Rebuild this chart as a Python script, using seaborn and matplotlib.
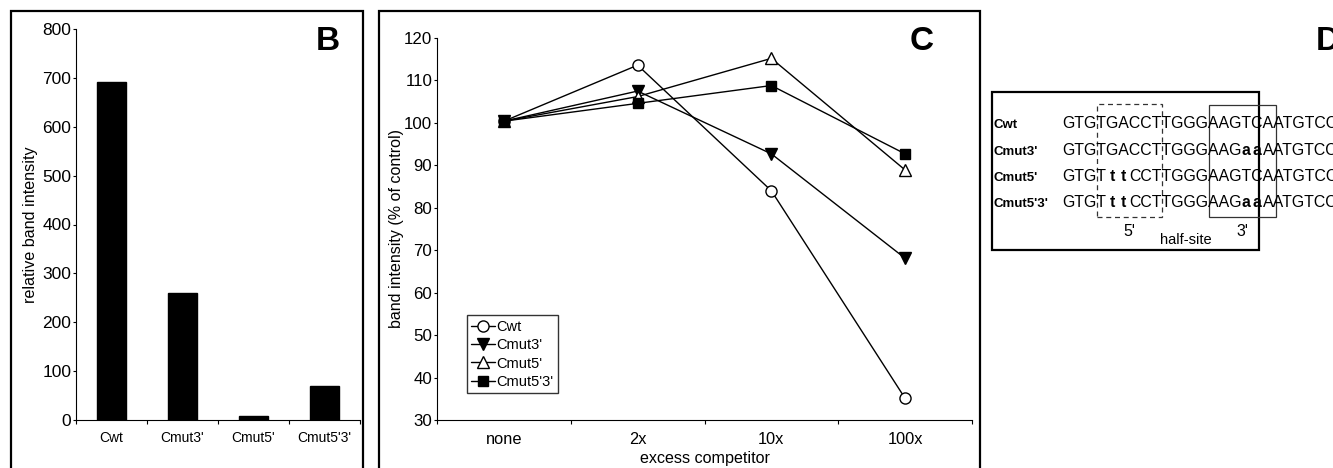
import numpy as np
import pandas as pd
import matplotlib
matplotlib.use("Agg")
import matplotlib.pyplot as plt
import seaborn as sns
from matplotlib.patches import Rectangle
from matplotlib.font_manager import FontProperties

# ---------------- data ----------------
bar_categories = ["Cwt", "Cmut3'", "Cmut5'", "Cmut5'3'"]
bar_values = [692, 260, 8, 70]
bar_yticks = [0, 100, 200, 300, 400, 500, 600, 700, 800]

competitor_levels = ["none", "2x", "10x", "100x"]
series_names = ["Cwt", "Cmut3'", "Cmut5'", "Cmut5'3'"]
cwt_values = [100.4, 113.6, 84.0, 35.1]
cmut3_values = [100.4, 107.5, 92.7, 68.1]
cmut5_values = [100.4, 106.2, 115.2, 88.9]
cmut53_values = [100.4, 104.6, 108.8, 92.7]
line_yticks = [30, 40, 50, 60, 70, 80, 90, 100, 110, 120]

seq_labels = ["Cwt", "Cmut3'", "Cmut5'", "Cmut5'3'"]
sequences = [
    "GTGTGACCTTGGGAAGTCAATGTCC",
    "GTGTGACCTTGGGAAGaaAATGTCC",
    "GTGTttCCTTGGGAAGTCAATGTCC",
    "GTGTttCCTTGGGAAGaaAATGTCC",
]
half_site_5 = (3, 9)    # char span of 5' half-site
half_site_3 = (13, 19)  # char span of 3' half-site

# ---------------- style ----------------
sns.set_style("ticks")
plt.rcParams["font.family"] = ["Liberation Sans", "DejaVu Sans"]
plt.rcParams["axes.edgecolor"] = "black"
plt.rcParams["xtick.color"] = "black"
plt.rcParams["ytick.color"] = "black"
plt.rcParams["text.color"] = "black"
plt.rcParams["axes.labelcolor"] = "black"

W, H = 1333, 468
fig = plt.figure(figsize=(W / 100, H / 100), dpi=100)


def px_axes(left, top, right, bottom):
    return fig.add_axes([left / W, (H - bottom) / H, (right - left) / W, (bottom - top) / H])


# ---------------- panel B ----------------
axB = px_axes(76, 29, 360, 420)
sns.barplot(x=bar_categories, y=bar_values, color="black", width=0.42,
            saturation=1, edgecolor="black", ax=axB)
axB.set_xlim(-0.5, 3.5)
axB.set_ylim(0, 800)
axB.set_yticks(bar_yticks)
axB.set_xticks(np.arange(-0.5, 4.0, 1.0), minor=True)
axB.tick_params(axis="x", which="major", length=0, pad=8, labelsize=10)
axB.tick_params(axis="x", which="minor", length=3, width=0.8, direction="out")
axB.tick_params(axis="y", length=2.5, width=0.8, pad=1, labelsize=12.5)
axB.set_ylabel("relative band intensity", fontsize=11.6)
axB.yaxis.set_label_coords(-0.135, 0.5)
axB.set_xlabel("")
sns.despine(ax=axB)
for s in ("left", "bottom"):
    axB.spines[s].set_linewidth(0.8)

# ---------------- panel C ----------------
axC = px_axes(437, 38, 972, 420)
series_values = [cwt_values, cmut3_values, cmut5_values, cmut53_values]
markers = ["o", "v", "^", "s"]
facecolors = ["white", "black", "white", "black"]
msizes = [8, 8.5, 8.5, 6.5]
for name, vals, m, fc, ms in zip(series_names, series_values, markers, facecolors, msizes):
    sns.lineplot(x=competitor_levels, y=vals, ax=axC, color="black", lw=1,
                 marker=m, markersize=ms, markerfacecolor=fc,
                 markeredgecolor="black", markeredgewidth=1, label=name, sort=False)
axC.set_xlim(-0.5, 3.5)
axC.set_ylim(30, 120)
axC.set_yticks(line_yticks)
axC.set_xticks(np.arange(-0.5, 4.0, 1.0), minor=True)
axC.tick_params(axis="x", which="major", length=0, pad=9, labelsize=11.8)
axC.tick_params(axis="x", which="minor", length=3, width=0.8, direction="out")
axC.tick_params(axis="y", length=2.5, width=0.8, pad=1, labelsize=12.2)
axC.set_ylabel("band intensity (% of control)", fontsize=11.5)
axC.yaxis.set_label_coords(-0.062, 0.5)
axC.set_xlabel("excess competitor", fontsize=11.6)
axC.xaxis.set_label_coords(0.5, -0.08)
sns.despine(ax=axC)
for s in ("left", "bottom"):
    axC.spines[s].set_linewidth(0.8)
leg = axC.legend(loc="lower left", bbox_to_anchor=(0.056, 0.07), borderaxespad=0,
                 fontsize=10.5, frameon=True, fancybox=False, handlelength=1.6,
                 handletextpad=0.1, labelspacing=0.3, borderpad=0.3)
leg.get_frame().set_edgecolor("black")
leg.get_frame().set_linewidth(1.0)

# ---------------- panel letters ----------------
fig.text(328 / W, 1 - 42 / H, "B", ha="center", va="center", fontsize=24, weight="bold")
fig.text(922 / W, 1 - 41 / H, "C", ha="center", va="center", fontsize=24, weight="bold")
fig.text(1316 / W, 1 - 42 / H, "D", ha="left", va="center", fontsize=24, weight="bold")

# ---------------- frames ----------------
fig.add_artist(Rectangle((11 / W, -0.05), (363 - 11) / W, 1 - 11 / H + 0.05,
                         transform=fig.transFigure, fill=False, ec="black", lw=1.6))
fig.add_artist(Rectangle((379 / W, -0.05), (980 - 379) / W, 1 - 11 / H + 0.05,
                         transform=fig.transFigure, fill=False, ec="black", lw=1.6))
fig.add_artist(Rectangle((992 / W, (H - 250) / H), 0.2, (250 - 92) / H,
                         transform=fig.transFigure, fill=False, ec="black", lw=1.6))

# ---------------- panel D sequences ----------------
renderer = fig.canvas.get_renderer()
fp_norm = FontProperties(family="Liberation Sans", size=11.4)
fp_bold = FontProperties(family="Liberation Sans", size=11.4, weight="bold")


def text_w(s, fp):
    if not s:
        return 0.0
    w, h, d = renderer.get_text_width_height_descent(s, fp, ismath=False)
    return w


ref = sequences[0]
x0 = 1062
slots = [x0 + text_w(ref[:i], fp_norm) for i in range(len(ref) + 1)]
baselines = [128, 155, 181, 207]

for lab, seq, yb in zip(seq_labels, sequences, baselines):
    fig.text(994 / W, 1 - yb / H, lab, ha="left", va="baseline", fontsize=9.5,
             weight="bold")
    i = 0
    while i < len(seq):
        if seq[i].isupper():
            j = i
            while j < len(seq) and seq[j].isupper():
                j += 1
            fig.text(slots[i] / W, 1 - yb / H, seq[i:j], ha="left", va="baseline",
                     fontproperties=fp_norm)
            i = j
        else:
            cx = (slots[i] + slots[i + 1]) / 2
            fig.text(cx / W, 1 - yb / H, seq[i], ha="center", va="baseline",
                     fontproperties=fp_bold)
            i += 1

# half-site boxes
bx5_l, bx5_r = slots[half_site_5[0]] + 0.5, slots[half_site_5[1]] + 1.0
bx3_l, bx3_r = slots[half_site_3[0]] + 1, slots[half_site_3[1]] + 3
fig.add_artist(Rectangle((bx5_l / W, (H - 217) / H), (bx5_r - bx5_l) / W, (217 - 104) / H,
                         transform=fig.transFigure, fill=False, ec="#333333", lw=0.9,
                         ls=(0, (4, 3))))
fig.add_artist(Rectangle((bx3_l / W, (H - 217) / H), (bx3_r - bx3_l) / W, (217 - 105) / H,
                         transform=fig.transFigure, fill=False, ec="#333333", lw=0.9))
c5 = (bx5_l + bx5_r) / 2
c3 = (bx3_l + bx3_r) / 2
fig.text(c5 / W, 1 - 232 / H, "5'", ha="center", va="center", fontsize=11.5)
fig.text(c3 / W, 1 - 231 / H, "3'", ha="center", va="center", fontsize=11.5)
fig.text((c5 + c3) / 2 / W, 1 - 240 / H, "half-site", ha="center", va="center", fontsize=10.5)

fig.savefig("out.png", dpi=100)
